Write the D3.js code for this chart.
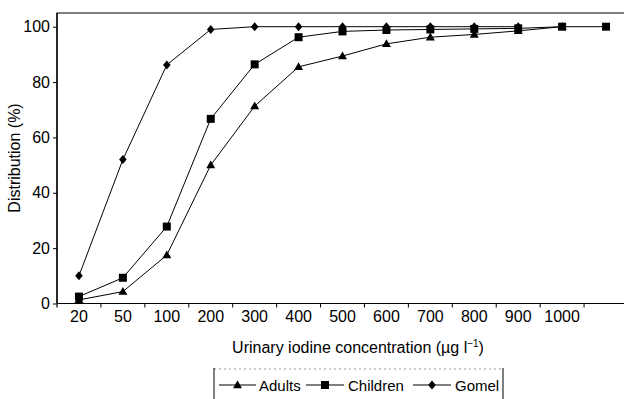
<!DOCTYPE html>
<html>
<head>
<meta charset="utf-8">
<script src="https://cdn.jsdelivr.net/npm/d3@7"></script>
<style>
  html, body { margin: 0; padding: 0; background: #fff; }
  svg { display: block; }
  text { font-family: "Liberation Sans", Arial, Helvetica, sans-serif; fill: #000; }
</style>
</head>
<body>
<script>
// ---- data ----
const categories = ["20", "50", "100", "200", "300", "400", "500", "600", "700", "800", "900", "1000", ">1000"];
const tickLabels = ["20", "50", "100", "200", "300", "400", "500", "600", "700", "800", "900", "1000", ""];
const adults   = [1.3, 4.3, 17.5, 50, 71.3, 85.5, 89.4, 93.8, 96.2, 97.2, 98.5, 100];
const children = [2.5, 9.3, 27.8, 66.7, 86.4, 96.2, 98.3, 98.8, 99.0, 99.2, 99.4, 100, 100];
const gomel    = [10, 52, 86.2, 99, 100, 100, 100, 100, 100, 100, 100];
const yTicks = [0, 20, 40, 60, 80, 100];
const seriesNames = ["Adults", "Children", "Gomel"];

(function () {
const W = 624, H = 399;
const svg = d3.select("body").append("svg").attr("width", W).attr("height", H);

const pLeft = 57, pRight = 628, pTop = 13, pBottom = 303.5;
const x = d3.scaleBand().domain(categories).range([pLeft, pRight]);
const y = d3.scaleLinear().domain([0, 100]).range([pBottom, 26.7]);

// plot frame (top + right, right off-canvas)
svg.append("path")
  .attr("d", `M${pLeft},${pBottom}V${pTop}H${pRight}V${pBottom}`)
  .attr("fill", "none").attr("stroke", "#000").attr("stroke-width", 1.2);

// y axis
const yAxis = d3.axisLeft(y).tickValues(yTicks).tickSize(4).tickPadding(3);
const gy = svg.append("g").attr("transform", `translate(${pLeft},0)`).call(yAxis);
gy.select(".domain").remove();
gy.selectAll("line").attr("stroke", "#000");
gy.selectAll("text").attr("font-size", 16).attr("fill", "#000").attr("font-family", "Liberation Sans, Arial, sans-serif");
svg.append("line").attr("x1", pLeft).attr("x2", pLeft).attr("y1", pTop).attr("y2", pBottom + 4)
  .attr("stroke", "#000").attr("stroke-width", 1.2);

// x axis line
svg.append("line").attr("x1", pLeft).attr("x2", pRight).attr("y1", pBottom).attr("y2", pBottom)
  .attr("stroke", "#000").attr("stroke-width", 1.2);
// boundary ticks
svg.append("g").selectAll("line").data(categories.slice(1)).join("line")
  .attr("x1", d => x(d)).attr("x2", d => x(d))
  .attr("y1", pBottom).attr("y2", pBottom + 4)
  .attr("stroke", "#000");
// labels
const xAxis = d3.axisBottom(x).tickSize(0).tickPadding(7).tickFormat((d, i) => tickLabels[i]);
const gx = svg.append("g").attr("transform", `translate(0,${pBottom})`).call(xAxis);
gx.select(".domain").remove();
gx.selectAll("text").attr("font-size", 16).attr("fill", "#000").attr("font-family", "Liberation Sans, Arial, sans-serif");

// axis titles
const xt = svg.append("text").attr("x", 358).attr("y", 353).attr("text-anchor", "middle").attr("font-size", 16);
xt.append("tspan").text("Urinary iodine concentration (\u00b5g l");
xt.append("tspan").attr("font-size", 10).attr("dy", -6).text("\u22121");
xt.append("tspan").attr("dy", 6).text(")");

svg.append("text").attr("transform", "translate(20,158) rotate(-90)")
  .attr("text-anchor", "middle").attr("font-size", 16).text("Distribution (%)");

// markers
const shapes = {
  Adults: "M0,-4.6L4.5,3.2L-4.5,3.2Z",
  Children: "M-4,-4H4V4H-4Z",
  Gomel: "M0,-4.5L3.8,0L0,4.5L-3.8,0Z"
};

const seriesData = [adults, children, gomel];
const line = d3.line().x((d, i) => x(categories[i]) + x.bandwidth() / 2).y(d => y(d));

seriesData.forEach((vals, s) => {
  const name = seriesNames[s];
  svg.append("path").datum(vals).attr("d", line)
    .attr("fill", "none").attr("stroke", "#000").attr("stroke-width", 1);
  svg.append("g").selectAll("path").data(vals).join("path")
    .attr("d", shapes[name])
    .attr("transform", (d, i) => `translate(${x(categories[i]) + x.bandwidth() / 2},${y(d)})`)
    .attr("fill", "#000");
});

// legend
const lg = svg.append("g");
lg.append("line").attr("x1", 214).attr("x2", 503).attr("y1", 369).attr("y2", 369)
  .attr("stroke", "#999").attr("stroke-width", 1).attr("stroke-dasharray", "2,3");
lg.append("line").attr("x1", 214).attr("x2", 214).attr("y1", 368).attr("y2", 399).attr("stroke", "#000");
lg.append("line").attr("x1", 503).attr("x2", 503).attr("y1", 368).attr("y2", 399).attr("stroke", "#000");
const legendItems = [
  { name: "Adults", x0: 219, x1: 256, tx: 259 },
  { name: "Children", x0: 306, x1: 344, tx: 348 },
  { name: "Gomel", x0: 413, x1: 451, tx: 455 }
];
const ly = 385;
legendItems.forEach(it => {
  lg.append("line").attr("x1", it.x0).attr("x2", it.x1).attr("y1", ly).attr("y2", ly)
    .attr("stroke", "#000").attr("stroke-width", 1.2);
  lg.append("path").attr("d", shapes[it.name])
    .attr("transform", `translate(${(it.x0 + it.x1) / 2},${ly})`).attr("fill", "#000");
  lg.append("text").attr("x", it.tx).attr("y", ly + 5.5).attr("font-size", 15).text(it.name);
});
})();
</script>
</body>
</html>
